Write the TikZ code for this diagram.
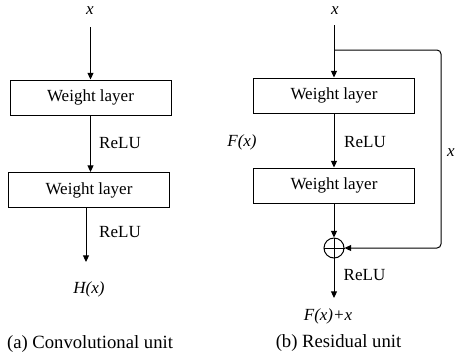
\documentclass[tikz,border=0pt]{standalone}
\usepackage{fontspec}
\setmainfont{Liberation Serif}
\usetikzlibrary{arrows.meta}
\begin{document}
\begin{tikzpicture}[x=0.6pt,y=-0.6pt,
  line width=0.6pt,
  wbox/.style={draw, minimum width=96.6pt, minimum height=21pt, inner sep=0pt,
    font=\fontsize{10.2}{12}\selectfont},
  lbl/.style={inner sep=0pt, font=\fontsize{10.2}{12}\selectfont},
  ilbl/.style={inner sep=0pt, font=\fontsize{10.2}{12}\selectfont\itshape},
  captext/.style={inner sep=0pt, font=\fontsize{11.2}{13}\selectfont},
  arr/.style={-{Triangle[length=4pt,width=3.6pt]}},
  plusnode/.style={draw, circle, minimum size=12pt, inner sep=0pt}]
\useasboundingbox (0,0) rectangle (456,360);

% ---- (a) Convolutional unit ----
\node[ilbl] (xa) at (90,11) {x};
\node[wbox] (a1) at (90.5,97.5) {Weight layer};
\node[wbox] (a2) at (89,190) {Weight layer};
\node[lbl] (ra1) at (120,143) {ReLU};
\node[lbl] (ra2) at (120,232) {ReLU};
\node[ilbl] (hx) at (89,289) {H(x)};
\coordinate (hend) at (86,262);
\node[captext] (capa) at (90,344) {(a) Convolutional unit};

\draw[arr, shorten <=9.6pt] (xa.center -| a1.north) -- (a1.north);
\draw[arr] (a1.south) -- (a1.south |- a2.north);
\draw[arr] (a2.south -| hend) -- (hend);

% ---- (b) Residual unit ----
\node[ilbl] (xb) at (335,11) {x};
\node[wbox] (b1) at (334,95.5) {Weight layer};
\node[wbox] (b2) at (334,185.5) {Weight layer};
\node[plusnode] (plus) at (334,248) {};
\node[ilbl] (fx) at (242,142) {F(x)};
\node[lbl] (rb1) at (365,142) {ReLU};
\node[lbl] (rb2) at (364.5,275) {ReLU};
\node[ilbl] (fpx) at (328,316) {F(x)+x};
\node[ilbl] (xr) at (451,153) {x};
\coordinate (bend) at (334,298);
\coordinate (br) at (334,50);
\coordinate (c1) at (441,50);
\coordinate (c2) at (441,248);
\node[captext] (capb) at (338.5,343) {(b) Residual unit};

\draw[arr, shorten <=8.4pt] (xb.center -| b1.north) -- (b1.north);
\draw[arr] (b1.south) -- (b2.north);
\draw[arr] (b2.south) -- (plus.north);
\draw (plus.north) -- (plus.south);
\draw (plus.west) -- (plus.east);
\draw[arr, rounded corners=2.4pt] (br) -- (c1) -- (c2) -- (plus.east);
\draw[arr] (plus.south) -- (bend);
\end{tikzpicture}
\end{document}
